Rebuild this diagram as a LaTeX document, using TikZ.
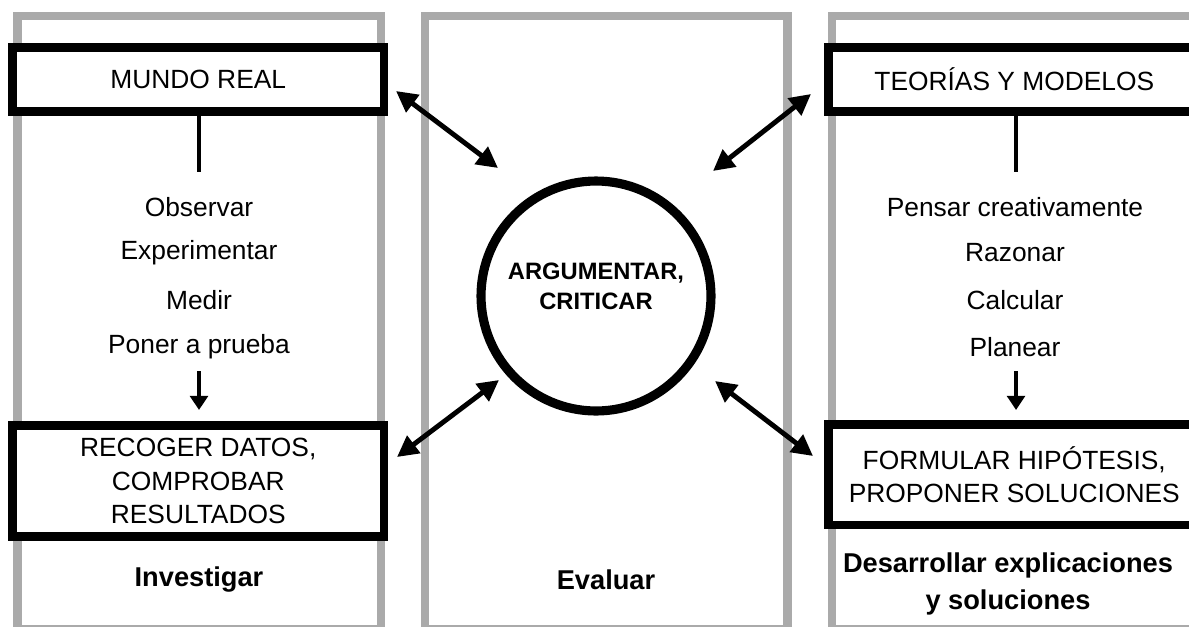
\documentclass[tikz,border=0pt]{standalone}
\usepackage{fontspec}
\setmainfont{Liberation Sans}
\usetikzlibrary{arrows.meta}
\definecolor{panelgray}{RGB}{170,170,170}
\begin{document}
\begin{tikzpicture}[x=0.02cm,y=-0.02cm,
  panel/.style={draw=panelgray, line width=4.8pt},
  box/.style={draw=black, line width=5pt, fill=white, inner sep=0pt,
    align=center, minimum width=7.43cm, font=\fontsize{15}{19}\selectfont},
  verb/.style={inner sep=0pt, font=\fontsize{15}{18}\selectfont},
  title/.style={inner sep=0pt, align=center, font=\fontsize{15.5}{21}\selectfont\bfseries},
  hub/.style={circle, draw=black, line width=5.2pt, fill=white, inner sep=0pt,
    minimum size=4.6cm},
  hubtext/.style={inner sep=0pt, align=center, font=\fontsize{13.5}{17}\selectfont\bfseries},
  stem/.style={line width=2.8pt},
  flow/.style={line width=2.6pt, -{Triangle[length=8pt,width=10pt]}},
  link/.style={line width=2.8pt, {Triangle[length=12pt,width=12pt]}-{Triangle[length=12pt,width=12pt]}}
]
\useasboundingbox (0,0) rectangle (1189,626);
\clip (0,0) rectangle (1189,626);
\fill[white] (0,0) rectangle (1189,626);

% three grey panels
\draw[panel] (17.5,16) rectangle (381,629);
\draw[panel] (425,16) rectangle (787.5,629);
\draw[panel] (832,16) rectangle (1195.5,629);

% boxes
\node[box, minimum height=1.28cm] (mundo) at (198.25,79.5) {MUNDO REAL};
\node[box, minimum height=2.22cm] (datos) at (198.25,481) {RECOGER DATOS,\\COMPROBAR\\RESULTADOS};
\node[box, minimum height=1.28cm] (teorias) at (1014.25,79.5) {TEORÍAS Y MODELOS};
\node[box, minimum height=2.01cm] (hipotesis) at (1014.25,474.75) {FORMULAR HIPÓTESIS,\\PROPONER SOLUCIONES};

% central circle
\node[hub] (centro) at (596,296) {};
\node[hubtext] (centrotxt) at (596,286) {ARGUMENTAR,\\CRITICAR};

% left column
\coordinate (stemL) at (199,172);
\draw[stem] (mundo.south -| stemL) -- (stemL);
\node[verb] (obs) at (199,207) {Observar};
\node[verb] (exp) at (199,253) {Experimentar};
\node[verb] (med) at (199,300) {Medir};
\node[verb] (pru) at (199,347) {Poner a prueba};
\coordinate (flowLa) at (199,371);
\coordinate (flowLb) at (199,410);
\draw[flow] (flowLa) -- (flowLb);

% right column
\coordinate (stemR) at (1016,172);
\draw[stem] (teorias.south -| stemR) -- (stemR);
\node[verb] (pen) at (1015,207) {Pensar creativamente};
\node[verb] (raz) at (1015,253) {Razonar};
\node[verb] (cal) at (1015,300) {Calcular};
\node[verb] (pla) at (1015,347) {Planear};
\coordinate (flowRa) at (1016,371);
\coordinate (flowRb) at (1016,410);
\draw[flow] (flowRa) -- (flowRb);

% panel titles
\node[title] (inv) at (199,580) {Investigar};
\node[title] (eva) at (606,580) {Evaluar};
\node[title] (des) at (1008,584) {Desarrollar explicaciones\\y soluciones};

% double-headed links to the circle
\coordinate (l1a) at (396,91);  \coordinate (l1b) at (498,168);
\coordinate (l2a) at (499,380); \coordinate (l2b) at (397,457);
\coordinate (l3a) at (811,94);  \coordinate (l3b) at (713,171);
\coordinate (l4a) at (715,381); \coordinate (l4b) at (813,456);
\draw[link] (l1a) -- (l1b);
\draw[link] (l2a) -- (l2b);
\draw[link] (l3a) -- (l3b);
\draw[link] (l4a) -- (l4b);
\end{tikzpicture}
\end{document}
